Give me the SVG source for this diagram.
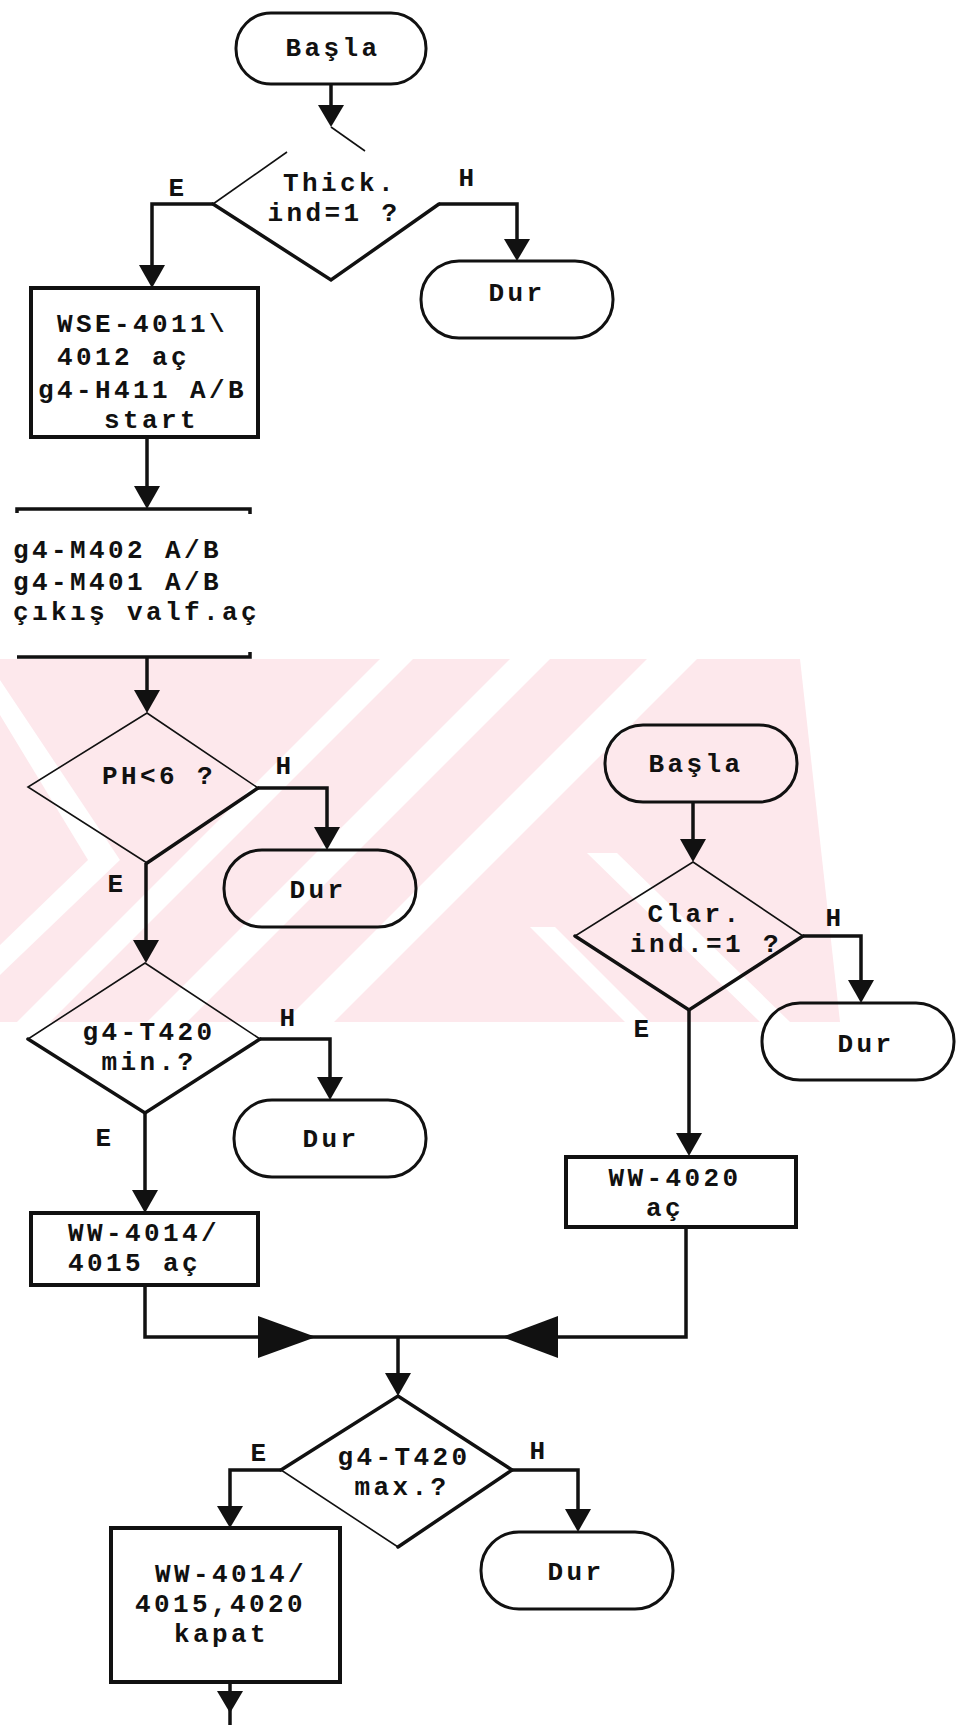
<svg xmlns="http://www.w3.org/2000/svg" width="959" height="1725" viewBox="0 0 959 1725">
<style>
.ln{fill:none;stroke:#111;stroke-width:3.5;stroke-linejoin:miter}
.ah{fill:#111}
.term{fill:none;stroke:#111;stroke-width:3}
.box{fill:none;stroke:#111;stroke-width:4}
.dia{fill:none;stroke:#111;stroke-width:1.6}
.edge{fill:none;stroke:#111;stroke-width:3.5;stroke-linecap:round}
text{font-family:"Liberation Mono","DejaVu Sans Mono",monospace;font-size:26px;font-weight:bold;letter-spacing:3.4px;fill:#111}
.c{text-anchor:middle}
.wm{fill:#fff}
</style>
<defs>
<clipPath id="wmclip"><polygon points="0,659 800,659 840,1022 0,1022"/></clipPath>
</defs>
<rect x="0" y="0" width="959" height="1725" fill="#fff"/>
<g id="watermark" clip-path="url(#wmclip)">
<rect x="0" y="659" width="840" height="363" fill="#fde8ec"/>
<polygon class="wm" points="380,659 413,659 50,1022 17,1022"/>
<polygon class="wm" points="510,659 550,659 187,1022 147,1022"/>
<polygon class="wm" points="647,659 697,659 334,1022 284,1022"/>
<polygon class="wm" points="0,680 0,715 88,860 0,945 0,975 120,860"/>
<polygon class="wm" points="587,853 617,853 790,1022 760,1022"/>
<polygon class="wm" points="530,927 555,927 650,1022 625,1022"/>
</g>
<g id="connectors">
<line class="ln" x1="331" y1="84" x2="331" y2="106"/>
<polygon class="ah" points="318,105 344,105 331,127"/>
<polyline class="ln" points="213,204 152,204 152,266"/>
<polygon class="ah" points="139,265 165,265 152,288"/>
<polyline class="ln" points="439,204 517,204 517,240"/>
<polygon class="ah" points="504,239 530,239 517,261"/>
<line class="ln" x1="147" y1="437" x2="147" y2="487"/>
<polygon class="ah" points="134,486 160,486 147,509"/>
<line class="ln" x1="147" y1="657" x2="147" y2="691"/>
<polygon class="ah" points="134,690 160,690 147,713"/>
<polyline class="ln" points="258,788 327,788 327,828"/>
<polygon class="ah" points="314,827 340,827 327,850"/>
<line class="ln" x1="146" y1="863" x2="146" y2="941"/>
<polygon class="ah" points="133,940 159,940 146,963"/>
<polyline class="ln" points="260,1039 330,1039 330,1078"/>
<polygon class="ah" points="317,1077 343,1077 330,1100"/>
<line class="ln" x1="145" y1="1113" x2="145" y2="1191"/>
<polygon class="ah" points="132,1190 158,1190 145,1213"/>
<polyline class="ln" points="145,1285 145,1337 398,1337"/>
<polygon class="ah" points="258,1316 258,1358 316,1337"/>
<polyline class="ln" points="686,1227 686,1337 398,1337"/>
<polygon class="ah" points="558,1316 558,1358 502,1337"/>
<line class="ln" x1="398" y1="1337" x2="398" y2="1374"/>
<polygon class="ah" points="385,1373 411,1373 398,1396"/>
<polyline class="ln" points="281,1470 230,1470 230,1507"/>
<polygon class="ah" points="217,1506 243,1506 230,1528"/>
<polyline class="ln" points="512,1470 578,1470 578,1510"/>
<polygon class="ah" points="565,1509 591,1509 578,1532"/>
<line class="ln" x1="230" y1="1682" x2="230" y2="1725"/>
<polygon class="ah" points="217,1691 243,1691 230,1713"/>
<line class="ln" x1="693" y1="802" x2="693" y2="840"/>
<polygon class="ah" points="680,839 706,839 693,862"/>
<polyline class="ln" points="803,936 861,936 861,981"/>
<polygon class="ah" points="848,980 874,980 861,1003"/>
<line class="ln" x1="689" y1="1010" x2="689" y2="1134"/>
<polygon class="ah" points="676,1133 702,1133 689,1156"/>
</g>
<g id="start1">
<rect class="term" x="236" y="13" width="190" height="71" rx="35"/>
<text class="c" x="333" y="56">Başla</text>
</g>
<g id="dec-thick">
<polyline class="dia" points="287,152 213,204"/>
<polyline class="dia" points="331,127 365,151"/>
<polyline class="edge" points="213,204 331,280 439,204"/>
<text class="c" x="340" y="191">Thick.</text>
<text class="c" x="334" y="221">ind=1 ?</text>
<text class="c" x="178" y="196">E</text>
<text class="c" x="468" y="186">H</text>
</g>
<g id="stop1">
<rect class="term" x="421" y="261" width="192" height="77" rx="38"/>
<text class="c" x="517" y="301">Dur</text>
</g>
<g id="proc-wse">
<rect class="box" x="31" y="288" width="227" height="149"/>
<text x="57" y="332">WSE-4011\</text>
<text x="57" y="365">4012 aç</text>
<text x="38" y="398">g4-H411 A/B</text>
<text x="104" y="428">start</text>
</g>
<g id="io-pumps">
<polyline class="ln" points="17,513 17,509 250,509 250,514"/>
<polyline class="ln" points="17,657 250,657 250,652"/>
<text x="13" y="558">g4-M402 A/B</text>
<text x="13" y="590">g4-M401 A/B</text>
<text x="13" y="620">çıkış valf.aç</text>
</g>
<g id="dec-ph">
<polygon class="dia" points="147,713 258,788 147,863 28,787"/>
<line class="edge" x1="258" y1="788" x2="147" y2="863"/>
<text class="c" x="159" y="784">PH&lt;6 ?</text>
<text class="c" x="285" y="774">H</text>
<text class="c" x="117" y="892">E</text>
</g>
<g id="stop2">
<rect class="term" x="224" y="850" width="192" height="77" rx="38"/>
<text class="c" x="318" y="898">Dur</text>
</g>
<g id="dec-tmin">
<polygon class="dia" points="145,963 260,1039 145,1113 28,1039"/>
<polyline class="edge" points="28,1039 145,1113 260,1039"/>
<text class="c" x="149" y="1040">g4-T420</text>
<text class="c" x="149" y="1070">min.?</text>
<text class="c" x="289" y="1026">H</text>
<text class="c" x="105" y="1146">E</text>
</g>
<g id="stop3">
<rect class="term" x="234" y="1100" width="192" height="77" rx="38"/>
<text class="c" x="331" y="1147">Dur</text>
</g>
<g id="proc-ww4014">
<rect class="box" x="31" y="1213" width="227" height="72"/>
<text x="68" y="1241">WW-4014/</text>
<text x="68" y="1271">4015 aç</text>
</g>
<g id="start2">
<rect class="term" x="605" y="725" width="192" height="77" rx="38"/>
<text class="c" x="696" y="772">Başla</text>
</g>
<g id="dec-clar">
<polygon class="dia" points="693,862 803,936 689,1010 575,936"/>
<polyline class="edge" points="575,936 689,1010 803,936"/>
<text class="c" x="695" y="922">Clar.</text>
<text class="c" x="706" y="952">ind.=1 ?</text>
<text class="c" x="835" y="926">H</text>
<text class="c" x="643" y="1037">E</text>
</g>
<g id="stop5">
<rect class="term" x="762" y="1003" width="192" height="77" rx="38"/>
<text class="c" x="866" y="1052">Dur</text>
</g>
<g id="proc-ww4020">
<rect class="box" x="566" y="1157" width="230" height="70"/>
<text class="c" x="675" y="1186">WW-4020</text>
<text class="c" x="665" y="1216">aç</text>
</g>
<g id="dec-tmax">
<polygon class="dia" points="398,1396 512,1470 398,1547 281,1470"/>
<polyline class="edge" points="281,1470 398,1396 512,1470 398,1547"/>
<text class="c" x="404" y="1465">g4-T420</text>
<text class="c" x="402" y="1495">max.?</text>
<text class="c" x="260" y="1461">E</text>
<text class="c" x="539" y="1459">H</text>
</g>
<g id="stop4">
<rect class="term" x="481" y="1532" width="192" height="77" rx="38"/>
<text class="c" x="576" y="1580">Dur</text>
</g>
<g id="proc-close">
<rect class="box" x="111" y="1528" width="229" height="154"/>
<text x="155" y="1582">WW-4014/</text>
<text x="135" y="1612">4015,4020</text>
<text x="174" y="1642">kapat</text>
</g>
</svg>
